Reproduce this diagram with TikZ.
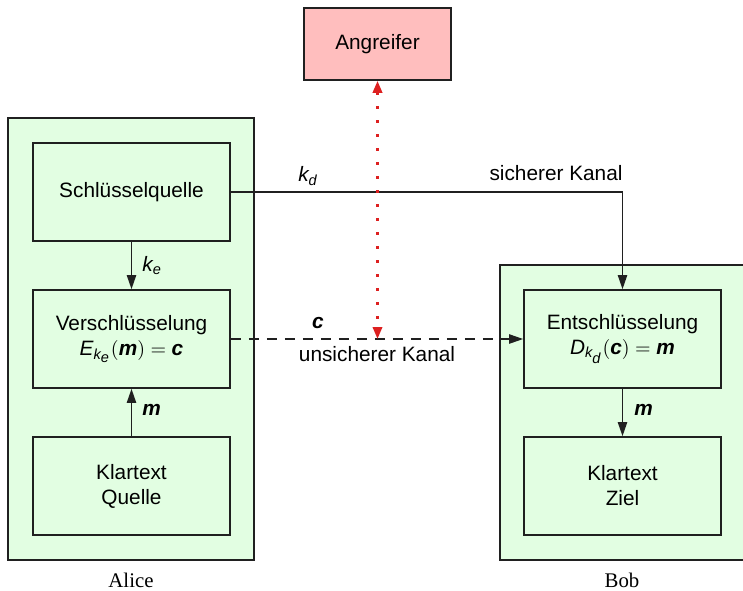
\documentclass[tikz,border=0pt]{standalone}
\usepackage{amsmath}
\usepackage{fontspec}
\setmainfont{Liberation Sans}
\newfontfamily\captionserif{Liberation Serif}
\usetikzlibrary{arrows.meta}

\definecolor{boxgreen}{HTML}{E2FEE2}
\definecolor{attackpink}{HTML}{FFBEBE}
\definecolor{attackred}{HTML}{DD2020}
\definecolor{linegray}{HTML}{202020}

% bold italic vector symbol
\newcommand{\bvec}[1]{\textbf{\textit{#1}}}

\begin{document}
\begin{tikzpicture}[x=0.5pt,y=-0.5pt,
  font=\fontsize{10.4}{12.5}\selectfont,
  group/.style={draw=linegray, fill=boxgreen, line width=0.8pt,
    minimum width=123pt, inner sep=0pt},
  stage/.style={draw=linegray, fill=boxgreen, line width=0.8pt,
    minimum width=98.5pt, minimum height=49pt, align=center, inner sep=0pt},
  attacker/.style={draw=linegray, fill=attackpink, line width=0.8pt,
    minimum width=73.5pt, minimum height=36pt, inner sep=0pt},
  flow/.style={draw=linegray, line width=0.75pt,
    -{Triangle[length=7pt,width=4.6pt]}},
  insecure/.style={flow, dash pattern=on 5pt off 4pt},
  eavesdrop/.style={draw=attackred, line width=1.4pt, line cap=butt,
    dash pattern=on 1.4pt off 5.6pt,
    {Triangle[length=6pt,width=4.6pt]}-{Triangle[length=6pt,width=4.6pt]}},
  caption/.style={font=\captionserif\fontsize{10.4}{12.5}\selectfont},
  lbl/.style={inner sep=1pt}]

\useasboundingbox (0,0) rectangle (743,590);
\clip (0,0) rectangle (743,590);
\fill[white] (0,0) rectangle (743,590);

% participant areas (Bob's area runs past the right edge)
\node[group, minimum height=221pt] (alice) at (131,339) {};
\node[group, minimum width=160pt, minimum height=147.5pt] (bob) at (660,412.5) {};

% processing stages
\node[stage] (keysrc) at (131.5,192) {Schlüsselquelle};
\node[stage] (enc) at (131.5,339) {Verschlüsselung\\
  $\textit{E}_{\textit{k}_{\scriptstyle\textit{e}}}(\bvec{m}) = \bvec{c}$};
\node[stage] (src) at (131.5,486) {Klartext\\Quelle};
\node[stage] (dec) at (622.5,339) {Entschlüsselung\\
  $\textit{D}_{\textit{k}_{\scriptstyle\textit{d}}}(\bvec{c}) = \bvec{m}$};
\node[stage] (dst) at (622.5,486) {Klartext\\Ziel};
\node[attacker] (attacker) at (377.5,44) {Angreifer};

% connectors
\draw[flow] (keysrc) -- (enc);
\draw[flow] (src) -- (enc);
\draw[flow] (dec) -- (dst);
\draw[flow] (keysrc.east) -| (dec.north);
\draw[insecure] (enc.east) -- (dec.west);
\coordinate (tap) at (attacker.south |- enc.east);
\draw[eavesdrop] (attacker.south) -- (tap);

% connector labels
\node[lbl, anchor=west] (lke) at (140,266) {$\textit{k}_{\textit{e}}$};
\node[lbl, anchor=west] (lm1) at (140,410) {$\bvec{m}$};
\node[lbl, anchor=west] (lm2) at (632,410) {$\bvec{m}$};
\node[lbl] (lkd) at (308,176) {$\textit{k}_{\textit{d}}$};
\node[lbl] (lsec) at (556,173) {sicherer Kanal};
\node[lbl] (lc) at (318,323) {$\bvec{c}$};
\node[lbl] (linsec) at (377,354) {unsicherer Kanal};

% participant names
\node[caption] (nalice) at (131,580) {Alice};
\node[caption] (nbob) at (622,580) {Bob};
\end{tikzpicture}
\end{document}
